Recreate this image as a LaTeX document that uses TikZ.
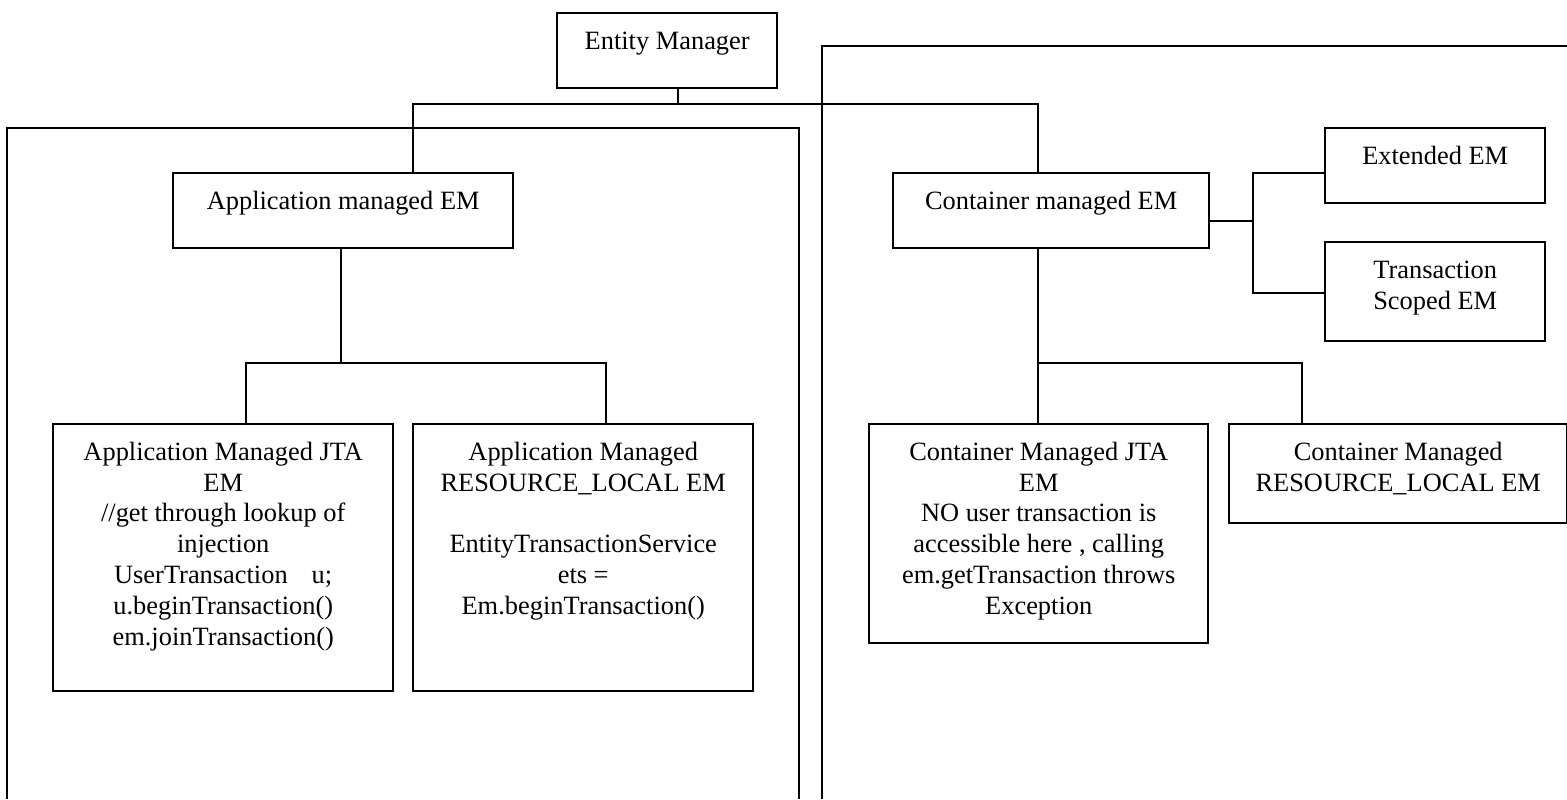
\documentclass[tikz,border=0pt]{standalone}
\usepackage{fontspec}
\setmainfont{Liberation Serif}
\newcommand{\emtext}[3]{\parbox[t][#2][t]{#1}{\centering\rule{0pt}{18pt}#3}}

\begin{document}
\begin{tikzpicture}[x=0.5pt, y=-0.5pt, line width=1pt,
    every node/.style={font=\fontsize{13.2pt}{15.4pt}\selectfont},
    embox/.style={draw, line width=1.2pt, inner sep=0pt, anchor=north west}]
  \useasboundingbox (0,0) rectangle (1567,799);

  % groups
  \draw (7,799) -- (7,128) -- (799,128) -- (799,799);
  \draw (822,799) -- (822,46) -- (1567,46);

  % boxes
  \node[embox] (em) at (556,12) {\emtext{110pt}{37.5pt}{Entity Manager}};
  \node[embox] (amem) at (172,172) {\emtext{170pt}{37.5pt}{Application managed EM}};
  \node[embox] (cmem) at (892,172) {\emtext{158pt}{37.5pt}{Container managed EM}};
  \node[embox] (ext) at (1324,127) {\emtext{110pt}{37.5pt}{Extended EM}};
  \node[embox] (tsem) at (1324,241) {\emtext{110pt}{49.5pt}{Transaction\\Scoped EM}};
  \node[embox] (ajta) at (52,423) {\emtext{170pt}{133.5pt}{Application Managed JTA\\EM\\
    //get through lookup of\\injection\\UserTransaction\hspace{12pt}u;\\
    u.beginTransaction()\\em.joinTransaction()}};
  \node[embox] (arl) at (412,423) {\emtext{170pt}{133.5pt}{Application Managed\\
    RESOURCE\_LOCAL EM\\[15.4pt]EntityTransactionService\\ets =\\Em.beginTransaction()}};
  \node[embox] (cjta) at (868,423) {\emtext{169.5pt}{109.5pt}{Container Managed JTA\\EM\\
    NO user transaction is\\accessible here , calling\\em.getTransaction throws\\Exception}};
  \node[embox] (crl) at (1228,423) {\emtext{169pt}{49.5pt}{Container Managed\\RESOURCE\_LOCAL EM}};

  % junctions
  \coordinate (emdrop) at (678,104);
  \coordinate (abus) at (413,104);
  \coordinate (cbus) at (1038,104);
  \coordinate (asplit) at (341,363);
  \coordinate (al) at (246,363);
  \coordinate (ar) at (606,363);
  \coordinate (csplit) at (1038,363);
  \coordinate (cr) at (1302,363);
  \coordinate (rmid) at (1253,221);
  \coordinate (rtop) at (1253,173);
  \coordinate (rbot) at (1253,293);

  % connectors
  \draw (emdrop |- em.south) -- (emdrop);
  \draw (abus |- amem.north) -- (abus) -- (cbus) -- (cbus |- cmem.north);
  \draw (asplit |- amem.south) -- (asplit);
  \draw (al |- ajta.north) -- (al) -- (ar) -- (ar |- arl.north);
  \draw (csplit |- cmem.south) -- (csplit);
  \draw (cjta.north -| csplit) -- (csplit) -- (cr) -- (cr |- crl.north);
  \draw (rmid -| cmem.east) -- (rmid);
  \draw (rtop -| ext.west) -- (rtop) -- (rbot) -- (rbot -| tsem.west);
\end{tikzpicture}
\end{document}
